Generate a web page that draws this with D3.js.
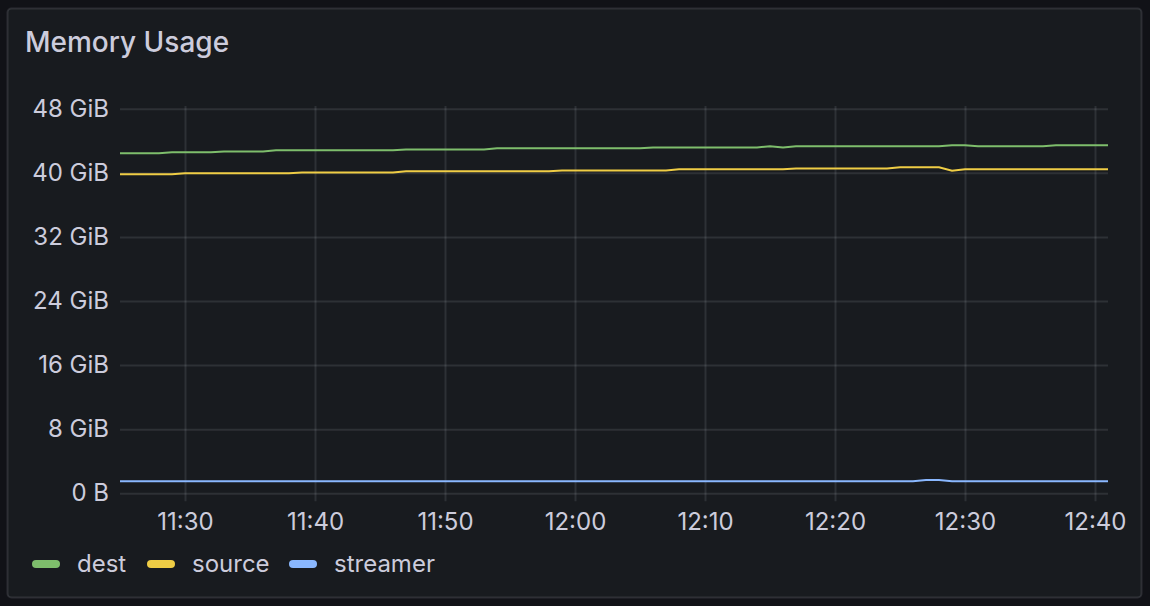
<!DOCTYPE html>
<html>
<head>
<meta charset="utf-8">
<script src="https://cdn.jsdelivr.net/npm/d3@7"></script>
<style>
  html, body { margin: 0; padding: 0; background: #111217; }
  svg { display: block; font-family: Inter, "Noto Sans", sans-serif; }
</style>
</head>
<body>
<svg id="chart" width="1150" height="606"></svg>
<script>
// values in GiB, times are HH:MM on the same day
const destTimes = ["11:25","11:28","11:29","11:32","11:33","11:36","11:37","11:46","11:47","11:53","11:54","12:05","12:06","12:14","12:15","12:16","12:17","12:28","12:29","12:30","12:31","12:36","12:37","12:41"];
const destValues = [42.43,42.43,42.55,42.55,42.67,42.67,42.80,42.80,42.92,42.92,43.05,43.05,43.17,43.17,43.32,43.17,43.32,43.32,43.45,43.45,43.32,43.32,43.45,43.45];

const sourceTimes = ["11:25","11:29","11:30","11:38","11:39","11:46","11:47","11:58","11:59","12:07","12:08","12:16","12:17","12:24","12:25","12:28","12:29","12:30","12:41"];
const sourceValues = [39.81,39.81,39.93,39.93,40.05,40.05,40.18,40.18,40.30,40.30,40.43,40.43,40.55,40.55,40.68,40.68,40.25,40.43,40.43];

const streamerTimes = ["11:25","12:26","12:27","12:28","12:29","12:41"];
const streamerValues = [1.5,1.5,1.65,1.65,1.5,1.5];

const seriesNames = ["dest", "source", "streamer"];
const seriesColors = ["#7EBE6C", "#EFCD45", "#8AB8FF"];

const yTicks = [0, 8, 16, 24, 32, 40, 48];
const yTickLabels = ["0 B", "8 GiB", "16 GiB", "24 GiB", "32 GiB", "40 GiB", "48 GiB"];
const xTickTimes = ["11:30","11:40","11:50","12:00","12:10","12:20","12:30","12:40"];
const xStart = "11:25", xEnd = "12:41";

const parseT = d3.timeParse("%H:%M");
const zip = (ts, vs) => ts.map((t, i) => ({t: parseT(t), v: vs[i]}));
const series = [
  zip(destTimes, destValues),
  zip(sourceTimes, sourceValues),
  zip(streamerTimes, streamerValues),
];

const svg = d3.select("#chart");
const textColor = "#ccccdc";
const gridColor = "rgba(240,250,255,0.10)";

// panel
svg.append("rect").attr("x", 7.5).attr("y", 8.5).attr("width", 1134).attr("height", 589)
  .attr("rx", 4).attr("fill", "#181b1f").attr("stroke", "rgba(204,204,220,0.14)").attr("stroke-width", 2);

svg.append("text").attr("x", 25).attr("y", 52).attr("fill", textColor)
  .attr("font-size", 28).attr("font-weight", 500).text("Memory Usage");

const plotL = 120, plotR = 1108, plotT = 106, plotB = 493.3;

const x = d3.scaleTime().domain([parseT(xStart), parseT(xEnd)]).range([plotL, plotR]);
const y = d3.scaleLinear().domain([0, 48]).range([plotB, 108.7]);

// horizontal grid + y labels
const yAxis = d3.axisLeft(y).tickValues(yTicks)
  .tickFormat((d, i) => yTickLabels[i]).tickSize(-(plotR - plotL)).tickPadding(11);
const gy = svg.append("g").attr("transform", `translate(${plotL},0)`).call(yAxis);
gy.select(".domain").remove();
gy.selectAll(".tick line").attr("stroke", gridColor).attr("stroke-width", 2);
gy.selectAll(".tick text").attr("fill", textColor).attr("font-size", 24)
  .attr("font-family", "Inter, 'Noto Sans', sans-serif");

// vertical grid + x labels
const xAxis = d3.axisBottom(x).tickValues(xTickTimes.map(parseT))
  .tickFormat(d3.timeFormat("%H:%M")).tickSize(plotB - plotT + 8).tickPadding(12);
const gx = svg.append("g").attr("transform", `translate(0,${plotT})`).call(xAxis);
gx.select(".domain").remove();
gx.selectAll(".tick line").attr("stroke", gridColor).attr("stroke-width", 2);
gx.selectAll(".tick text").attr("fill", textColor).attr("font-size", 24)
  .attr("font-family", "Inter, 'Noto Sans', sans-serif");

// lines
const line = d3.line().x(d => x(d.t)).y(d => y(d.v));
series.forEach((s, i) => {
  svg.append("path").datum(s).attr("d", line).attr("fill", "none")
    .attr("stroke", seriesColors[i]).attr("stroke-width", 2);
});

// legend
const legendX = [32, 147, 289];
const lg = svg.append("g");
seriesNames.forEach((name, i) => {
  lg.append("rect").attr("x", legendX[i]).attr("y", 560).attr("width", 28).attr("height", 8)
    .attr("rx", 4).attr("fill", seriesColors[i]);
  lg.append("text").attr("x", legendX[i] + 45).attr("y", 572).attr("fill", textColor)
    .attr("font-size", 24).text(name);
});
</script>
</body>
</html>
